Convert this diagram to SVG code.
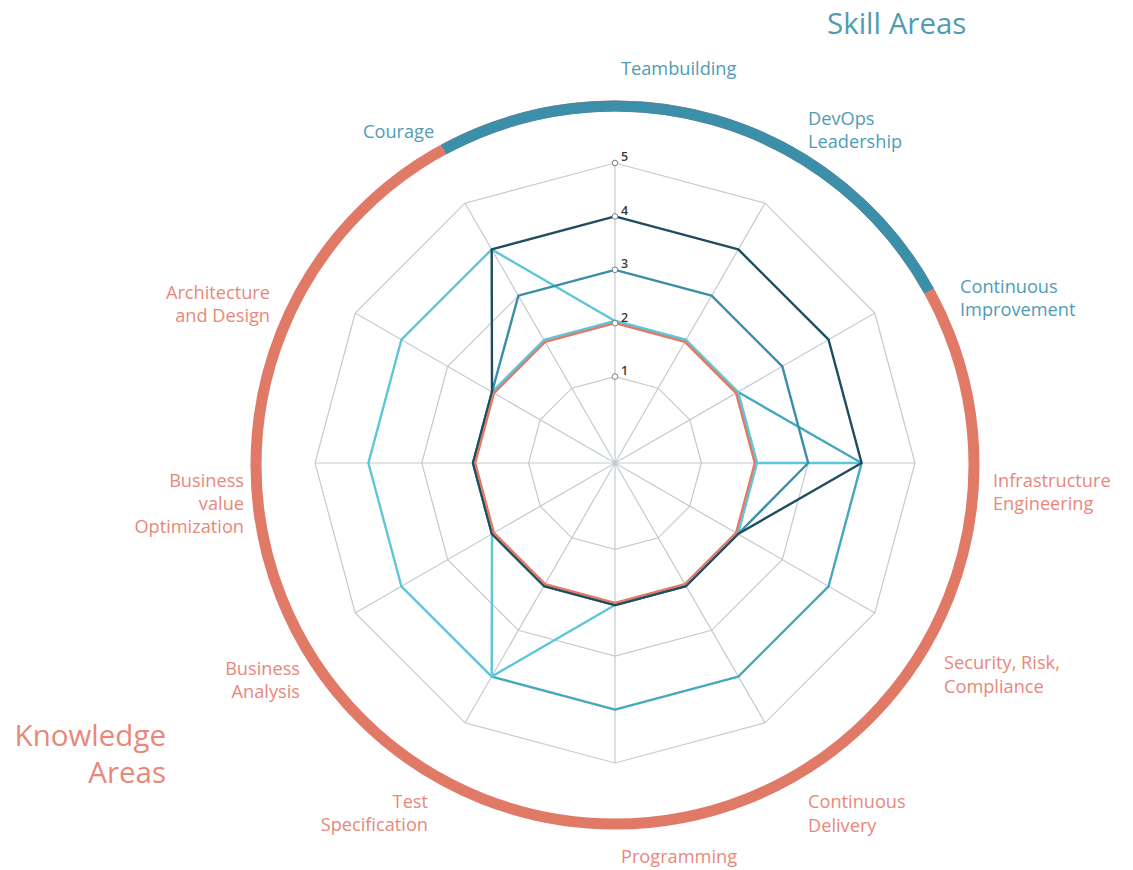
<svg xmlns="http://www.w3.org/2000/svg" width="1133" height="870" viewBox="0 0 1133 870">
  <style>
    .grid { fill: none; stroke: #c2cbd0; stroke-width: 1.2; }
    .series { fill: none; stroke-width: 2.4; stroke-linejoin: round; }
    .lbl { font-family: "Open Sans", "Liberation Sans", sans-serif; font-size: 18.2px; }
    .skill { fill: #4f9cb5; }
    .know { fill: #e8887a; }
    .title { font-family: "Open Sans", "Liberation Sans", sans-serif; font-size: 29.5px; }
    .tick { font-family: "Open Sans", "Liberation Sans", sans-serif; font-size: 12.5px; font-weight: 600; fill: #3a3a3a; }
    .mark { fill: #ffffff; stroke: #7a7f83; stroke-width: 1; }
  </style>
  <rect width="1133" height="870" fill="#ffffff"/>

  <g id="ring">
    <circle cx="615" cy="465" r="359" fill="none" stroke="#e07a67" stroke-width="11"/>
    <path d="M 443.7 149.5 A 359 359 0 0 1 929 290.9" fill="none" stroke="#3c8fa8" stroke-width="11"/>
  </g>

  <g id="grid">
    <polygon class="grid" points="615,376.6 658.2,388.2 689.8,419.8 701.4,463 689.8,506.2 658.2,537.8 615,549.4 571.8,537.8 540.2,506.2 528.6,463 540.2,419.8 571.8,388.2"/>
    <polygon class="grid" points="615,323.2 684.9,341.9 736.1,393.1 754.8,463 736.1,532.9 684.9,584.1 615,602.8 545.1,584.1 493.9,532.9 475.2,463 493.9,393.1 545.1,341.9"/>
    <polygon class="grid" points="615,269.8 711.6,295.7 782.3,366.4 808.2,463 782.3,559.6 711.6,630.3 615,656.2 518.4,630.3 447.7,559.6 421.8,463 447.7,366.4 518.4,295.7"/>
    <polygon class="grid" points="615,216.4 738.3,249.4 828.6,339.7 861.6,463 828.6,586.3 738.3,676.6 615,709.6 491.7,676.6 401.4,586.3 368.4,463 401.4,339.7 491.7,249.4"/>
    <polygon class="grid" points="615,163 765,203.2 874.8,313 915,463 874.8,613 765,722.8 615,763 465,722.8 355.2,613 315,463 355.2,313 465,203.2"/>
    <path class="grid" d="M615,463 L615,163 M615,463 L765,203.2 M615,463 L874.8,313 M615,463 L915,463 M615,463 L874.8,613 M615,463 L765,722.8 M615,463 L615,763 M615,463 L465,722.8 M615,463 L355.2,613 M615,463 L315,463 M615,463 L355.2,313 M615,463 L465,203.2"/>
  </g>

  <g id="connectors">
    <polyline id="series-cyan-a" class="series" stroke="#5ec6d9" points="861.6,463 757,463 738,392 686,340 615,321 491.7,249.4 401.4,339.7 368.4,463 401.4,586.3 491.7,676.6"/>
    <polyline id="series-cyan-a-deep" class="series" stroke="#45a8be" points="738,392 861.6,463 828.6,586.3 738.3,676.6 615,709.6 491.7,676.6"/>
    <polygon id="series-cyan-b" class="series" stroke="#5ec6d9" points="615,321 686,340 738,392 757,463 738,534 686,586 615,605 491.7,676.6 492,534 473,463 492,392 544,340"/>
    <polygon id="series-teal" class="series" stroke="#3a8ea8" points="615,269.8 711.6,295.7 782.3,366.4 808.2,463 738,534 686,586 615,605 544,586 492,534 473,463 492,392 518.4,295.7"/>
    <polygon id="series-dark" class="series" stroke="#1e4d60" points="615,216.4 738.3,249.4 828.6,339.7 861.6,463 738,534 686,586 615,605 544,586 492,534 473,463 492,392 491.7,249.4"/>
    <polygon id="series-red" class="series" stroke="#e07a67" points="615,323.2 684.9,341.9 736.1,393.1 754.8,463 736.1,532.9 684.9,584.1 615,602.8 545.1,584.1 493.9,532.9 475.2,463 493.9,393.1 545.1,341.9"/>
  </g>

  <g id="scale">
    <circle class="mark" cx="615" cy="376.6" r="2.8"/>
    <circle class="mark" cx="615" cy="323.2" r="2.8"/>
    <circle class="mark" cx="615" cy="269.8" r="2.8"/>
    <circle class="mark" cx="615" cy="216.4" r="2.8"/>
    <circle class="mark" cx="615" cy="163" r="2.8"/>
    <text class="tick" x="621" y="375">1</text>
    <text class="tick" x="621" y="321.5">2</text>
    <text class="tick" x="621" y="268">3</text>
    <text class="tick" x="621" y="214.5">4</text>
    <text class="tick" x="621" y="161">5</text>
  </g>

  <g id="title-skill"><text class="title skill" x="827" y="34">Skill Areas</text></g>
  <g id="title-knowledge">
    <text class="title know" x="166" y="746" text-anchor="end">Knowledge</text>
    <text class="title know" x="166" y="783" text-anchor="end">Areas</text>
  </g>

  <g id="axis-teambuilding"><text class="lbl skill" x="621" y="75">Teambuilding</text></g>
  <g id="axis-devops">
    <text class="lbl skill" x="808" y="125">DevOps</text>
    <text class="lbl skill" x="808" y="148">Leadership</text>
  </g>
  <g id="axis-continuous-improvement">
    <text class="lbl skill" x="960" y="293">Continuous</text>
    <text class="lbl skill" x="960" y="316">Improvement</text>
  </g>
  <g id="axis-infrastructure">
    <text class="lbl know" x="993" y="487">Infrastructure</text>
    <text class="lbl know" x="993" y="510">Engineering</text>
  </g>
  <g id="axis-security">
    <text class="lbl know" x="944" y="669">Security, Risk,</text>
    <text class="lbl know" x="944" y="693">Compliance</text>
  </g>
  <g id="axis-continuous-delivery">
    <text class="lbl know" x="808" y="808">Continuous</text>
    <text class="lbl know" x="808" y="832">Delivery</text>
  </g>
  <g id="axis-programming"><text class="lbl know" x="621" y="863">Programming</text></g>
  <g id="axis-test">
    <text class="lbl know" x="428" y="808" text-anchor="end">Test</text>
    <text class="lbl know" x="428" y="831" text-anchor="end">Specification</text>
  </g>
  <g id="axis-business-analysis">
    <text class="lbl know" x="300" y="675" text-anchor="end">Business</text>
    <text class="lbl know" x="300" y="698" text-anchor="end">Analysis</text>
  </g>
  <g id="axis-business-value">
    <text class="lbl know" x="244" y="487" text-anchor="end">Business</text>
    <text class="lbl know" x="244" y="510" text-anchor="end">value</text>
    <text class="lbl know" x="244" y="533" text-anchor="end">Optimization</text>
  </g>
  <g id="axis-architecture">
    <text class="lbl know" x="270" y="299" text-anchor="end">Architecture</text>
    <text class="lbl know" x="270" y="322" text-anchor="end">and Design</text>
  </g>
  <g id="axis-courage"><text class="lbl skill" x="363" y="138">Courage</text></g>
</svg>
